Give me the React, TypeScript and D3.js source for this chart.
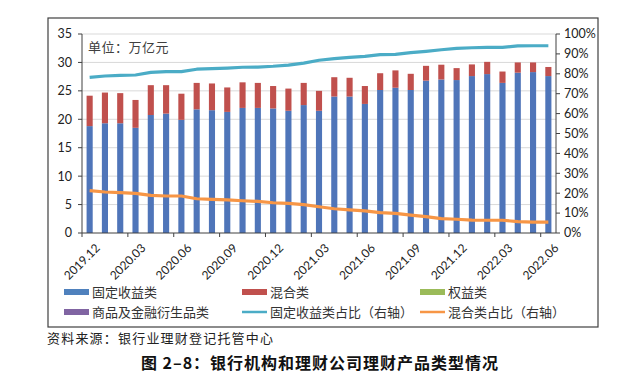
import React from 'react';
import * as d3 from 'd3';

const months = [
  '2019.12', '2020.01', '2020.02', '2020.03', '2020.04', '2020.05', '2020.06', '2020.07',
  '2020.08', '2020.09', '2020.10', '2020.11', '2020.12', '2021.01', '2021.02', '2021.03',
  '2021.04', '2021.05', '2021.06', '2021.07', '2021.08', '2021.09', '2021.10', '2021.11',
  '2021.12', '2022.01', '2022.02', '2022.03', '2022.04', '2022.05', '2022.06',
];
const tickLabels = ['2019.12', '2020.03', '2020.06', '2020.09', '2020.12', '2021.03', '2021.06', '2021.09', '2021.12', '2022.03', '2022.06'];

// 万亿元
const fixedIncome = [18.8, 19.3, 19.3, 18.5, 20.75, 21.0, 19.9, 21.75, 21.6, 21.3, 22.0, 22.0, 21.9, 21.5, 22.5, 21.5, 24.0, 24.0, 22.7, 25.15, 25.55, 25.15, 26.8, 27.0, 26.9, 27.6, 27.95, 26.4, 28.2, 28.3, 27.6];
const mixed = [5.35, 5.4, 5.3, 4.9, 5.25, 5.0, 4.6, 4.65, 4.7, 4.3, 4.5, 4.4, 3.95, 3.9, 3.9, 3.5, 3.4, 3.3, 3.15, 2.95, 3.05, 2.85, 2.6, 2.6, 2.1, 2.05, 2.15, 2.0, 1.8, 1.7, 1.6];
// % 右轴
const fixedShare = [78.2, 78.9, 79.2, 79.4, 80.7, 81.1, 81.1, 82.3, 82.6, 82.9, 83.3, 83.4, 83.8, 84.4, 85.4, 86.8, 87.6, 88.3, 88.8, 89.6, 89.8, 90.6, 91.3, 92.1, 92.8, 93.1, 93.3, 93.3, 94.0, 94.1, 94.1];
const mixedShare = [21.3, 20.6, 20.3, 19.9, 18.9, 18.6, 18.6, 17.2, 16.9, 16.6, 16.2, 15.9, 15.2, 14.9, 14.3, 13.2, 12.2, 11.6, 11.1, 10.2, 9.9, 9.0, 8.2, 7.2, 6.9, 6.5, 6.4, 6.4, 5.7, 5.5, 5.5];

const leftTicks = [0, 5, 10, 15, 20, 25, 30, 35];
const rightTicks = [0, 10, 20, 30, 40, 50, 60, 70, 80, 90, 100];

const legendItems = [
  { label: '固定收益类', color: '#4F81BD', kind: 'bar' },
  { label: '混合类', color: '#C0504D', kind: 'bar' },
  { label: '权益类', color: '#9BBB59', kind: 'bar' },
  { label: '商品及金融衍生品类', color: '#8064A2', kind: 'bar' },
  { label: '固定收益类占比（右轴）', color: '#4BACC6', kind: 'line' },
  { label: '混合类占比（右轴）', color: '#F79646', kind: 'line' },
];

const cjk = '"Noto Sans CJK SC", sans-serif';
const tickFont = 'Lato, "Open Sans", sans-serif';

export default function App() {
  const left = 82, right = 556, top = 34, bottom = 233;

  const x = d3.scaleBand<string>().domain(months).range([left, right]).paddingInner(0.6).paddingOuter(0.3);
  const y = d3.scaleLinear().domain([0, 35]).range([bottom, top]);
  const yr = d3.scaleLinear().domain([0, 100]).range([bottom, top]);
  const cx = (m: string) => (x(m) as number) + x.bandwidth() / 2;

  const shareLine = d3.line<number>().x((_, i) => cx(months[i])).y(d => yr(d));
  const step = x.step();

  return (
    <svg width={640} height={391} style={{ position: 'absolute', left: 0, top: 0, background: '#fff' }}>
      <rect x={48} y={18} width={550} height={309} fill="#fff" stroke="#404040" strokeWidth={1.2} />

      {leftTicks.slice(1).map(t => (
        <line key={'g' + t} x1={left} x2={right} y1={y(t)} y2={y(t)} stroke="#d9d9d9" strokeWidth={1} />
      ))}

      <text x={88} y={52} fontFamily={cjk} fontSize={13} fill="#404040" letterSpacing={0.5}>单位：万亿元</text>

      {months.map((m, i) => (
        <g key={m}>
          <rect x={x(m)} y={y(fixedIncome[i])} width={x.bandwidth()} height={bottom - y(fixedIncome[i])} fill="#4F75B9" />
          <rect x={x(m)} y={y(fixedIncome[i] + mixed[i])} width={x.bandwidth()} height={y(fixedIncome[i]) - y(fixedIncome[i] + mixed[i])} fill="#C0504D" />
        </g>
      ))}

      <path d={shareLine(fixedShare) || ''} fill="none" stroke="#4BACC6" strokeWidth={3.2} strokeLinejoin="round" />
      <path d={shareLine(mixedShare) || ''} fill="none" stroke="#F79646" strokeWidth={3.2} strokeLinejoin="round" />

      {/* left axis */}
      <line x1={left} x2={left} y1={top} y2={bottom} stroke="#404040" />
      {leftTicks.map(t => (
        <g key={'l' + t}>
          <line x1={left - 4} x2={left} y1={y(t)} y2={y(t)} stroke="#404040" />
          <text x={left - 10} y={y(t)} dy="0.35em" textAnchor="end" fontFamily={tickFont} fontSize={12.5} fill="#222">{t}</text>
        </g>
      ))}

      {/* right axis */}
      <line x1={right} x2={right} y1={top} y2={bottom} stroke="#404040" />
      {rightTicks.map(t => (
        <g key={'r' + t}>
          <line x1={right} x2={right + 4} y1={yr(t)} y2={yr(t)} stroke="#404040" />
          <text x={right + 8} y={yr(t)} dy="0.35em" fontFamily={tickFont} fontSize={12.5} fill="#222">{t}%</text>
        </g>
      ))}

      {/* x axis */}
      <line x1={left} x2={right} y1={bottom} y2={bottom} stroke="#404040" />
      {d3.range(0, months.length + 1, 3).map(i => (
        <line key={'xt' + i} x1={left + i * step} x2={left + i * step} y1={bottom} y2={bottom + 4} stroke="#404040" />
      ))}
      {tickLabels.map(m => (
        <text key={'xl' + m} transform={`translate(${cx(m) + 5},${bottom + 10}) rotate(-45)`} textAnchor="end" dy="0.7em"
          fontFamily={tickFont} fontSize={12} fill="#222">{m}</text>
      ))}

      {/* legend */}
      {legendItems.map((it, i) => {
        const lx = [64, 242, 420][i % 3];
        const ly = i < 3 ? 292 : 312;
        return (
          <g key={it.label}>
            {it.kind === 'bar'
              ? <rect x={lx} y={ly - 3} width={25} height={6} fill={it.color} />
              : <line x1={lx} x2={lx + 25} y1={ly} y2={ly} stroke={it.color} strokeWidth={2.5} />}
            <text x={lx + 28} y={ly} dy="0.36em" fontFamily={cjk} fontSize={13} fill="#333">{it.label}</text>
          </g>
        );
      })}

      <text x={47} y={343} fontFamily={cjk} fontSize={13} fill="#222" letterSpacing={1.2}>资料来源：银行业理财登记托管中心</text>
      <text x={320} y={369} textAnchor="middle" fontFamily={cjk} fontSize={16} fontWeight="bold" fill="#111" letterSpacing={1}>图 2–8：银行机构和理财公司理财产品类型情况</text>
    </svg>
  );
}
